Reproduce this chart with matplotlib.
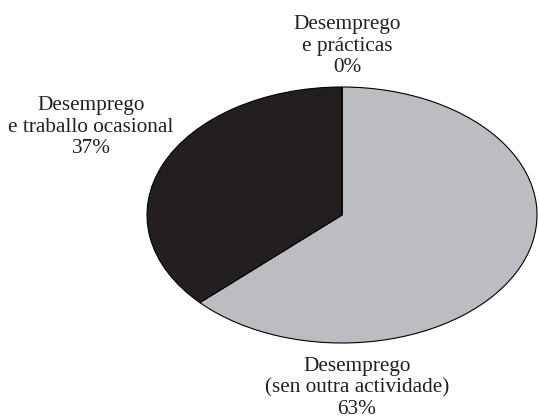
import matplotlib.pyplot as plt

# data
labels = ['Desemprego\n(sen outra actividade)', 'Desemprego\ne traballo ocasional', 'Desemprego\ne prácticas']
values = [63, 37, 0]
colors = ['#bcbdc0', '#231f20', '#ffffff']

plt.rcParams['font.family'] = ['Liberation Serif', 'DejaVu Serif']

W, H = 539, 418
fig = plt.figure(figsize=(W / 100, H / 100), dpi=100)
# elliptical pie: axes box matches the ellipse bounds (pixels)
left, right, top, bottom = 147, 537, 87, 343
ax = fig.add_axes([left / W, (H - bottom) / H, (right - left) / W, (bottom - top) / H])
ax.pie(values, colors=colors, startangle=90, counterclock=False, radius=1,
       wedgeprops=dict(edgecolor='black', linewidth=0.8))
ax.set_aspect('auto')
ax.set_xlim(-1, 1)
ax.set_ylim(-1, 1)
ax.axis('off')

# label positions in pixels (center of text block)
pos = [(357, 388), (91, 127), (347, 46)]
for lab, v, (x, y) in zip(labels, values, pos):
    fig.text(x / W, 1 - y / H, '%s\n%d%%' % (lab, v), ha='center', va='center',
             fontsize=15.3, linespacing=1.15, color='#231f20')

fig.savefig('out.png', dpi=100)
